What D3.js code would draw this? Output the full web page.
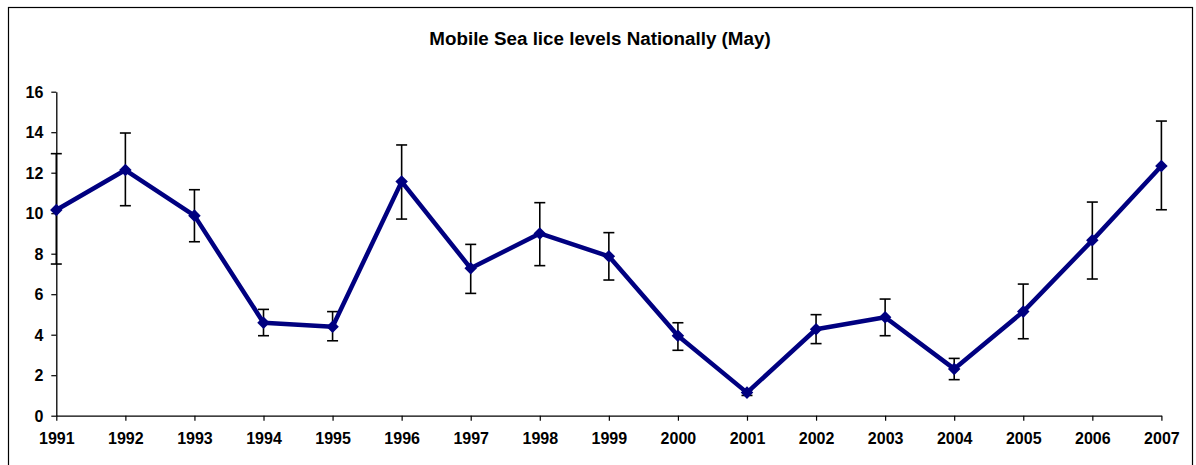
<!DOCTYPE html>
<html><head><meta charset="utf-8">
<script src="https://cdn.jsdelivr.net/npm/d3@7"></script>
<style>
html,body{margin:0;padding:0;background:#fff;}
svg{display:block;font-family:"Liberation Sans",Arial,sans-serif;}
</style></head>
<body>
<svg id="chart" width="1196" height="465"></svg>
<script>
const years = [1991,1992,1993,1994,1995,1996,1997,1998,1999,2000,2001,2002,2003,2004,2005,2006,2007];
const values = [10.16,12.13,9.88,4.59,4.39,11.56,7.28,9.0,7.87,3.95,1.14,4.27,4.86,2.31,5.14,8.66,12.33];
const errHigh = [12.94,13.96,11.16,5.25,5.14,13.37,8.46,10.52,9.04,4.59,1.27,4.99,5.76,2.83,6.50,10.55,14.55];
const errLow = [7.49,10.37,8.59,3.95,3.70,9.71,6.04,7.41,6.70,3.23,1.0,3.56,3.95,1.78,3.80,6.75,10.17];
const yTicks = [0,2,4,6,8,10,12,14,16];
const title = "Mobile Sea lice levels Nationally (May)";

const svg = d3.select("#chart");
// outer border
svg.append("rect").attr("x",8.5).attr("y",7.5).attr("width",1184).attr("height",470)
  .attr("fill","none").attr("stroke","#000").attr("stroke-width",1.2);

const m = {left:56.3, right:1161.4, top:91.7, bottom:415.7};
const x = d3.scalePoint().domain(years).range([m.left, m.right]);
const y = d3.scaleLinear().domain([0,16]).range([m.bottom, m.top]);

svg.append("text").attr("x",600).attr("y",45).attr("text-anchor","middle")
  .attr("font-size",18.8).attr("font-weight","bold").text(title);

const yAxis = svg.append("g").attr("transform",`translate(${m.left},0)`)
  .call(d3.axisLeft(y).tickValues(yTicks).tickSize(5).tickPadding(8).tickSizeOuter(0));
const xAxis = svg.append("g").attr("transform",`translate(0,${m.bottom})`)
  .call(d3.axisBottom(x).tickSize(5).tickPadding(12).tickSizeOuter(0).tickFormat(d3.format("d")));
[yAxis,xAxis].forEach(a=>{
  a.select(".domain").attr("stroke","#000").attr("stroke-width",1.3);
  a.selectAll(".tick line").attr("stroke","#000").attr("stroke-width",1.2);
  a.selectAll("text").attr("font-size",16).attr("font-weight","bold").attr("fill","#000")
   .attr("font-family","'Liberation Sans',Arial,sans-serif");
});
yAxis.selectAll("text").attr("dy","0.36em");

const data = years.map((yr,i)=>({yr, v:values[i], hi:errHigh[i], lo:errLow[i]}));

const eb = svg.append("g").attr("stroke","#000").attr("stroke-width",1.6);
data.forEach(d=>{
  const cx = x(d.yr);
  eb.append("line").attr("x1",cx).attr("x2",cx).attr("y1",y(d.hi)).attr("y2",y(d.lo));
  eb.append("line").attr("x1",cx-5.5).attr("x2",cx+5.5).attr("y1",y(d.hi)).attr("y2",y(d.hi));
  eb.append("line").attr("x1",cx-5.5).attr("x2",cx+5.5).attr("y1",y(d.lo)).attr("y2",y(d.lo));
});

const line = d3.line().x(d=>x(d.yr)).y(d=>y(d.v));
svg.append("path").datum(data).attr("d",line).attr("fill","none")
  .attr("stroke","#000080").attr("stroke-width",4.5).attr("stroke-linejoin","round");

svg.append("g").selectAll("path").data(data).join("path")
  .attr("d", d3.symbol().type(d3.symbolDiamond2).size(100)())
  .attr("transform", d=>`translate(${x(d.yr)},${y(d.v)})`)
  .attr("fill","#000080");
</script>
</body></html>
